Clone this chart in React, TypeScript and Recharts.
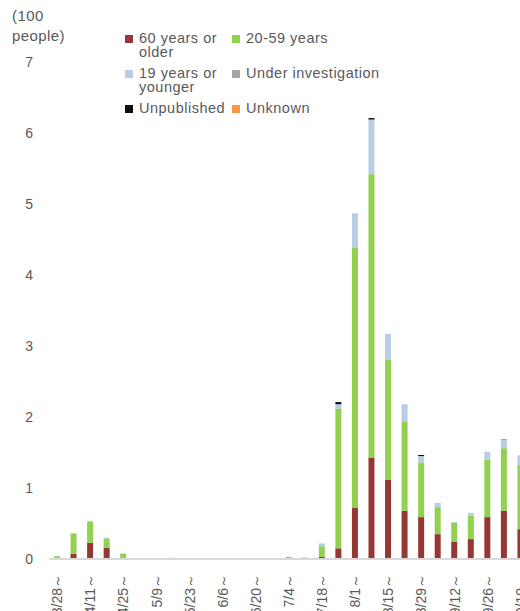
import { BarChart, Bar, XAxis, YAxis } from "recharts";

const weeks = [
  "3/28～", "4/4～", "4/11～", "4/18～", "4/25～", "5/2～", "5/9～", "5/16～", "5/23～", "5/30～",
  "6/6～", "6/13～", "6/20～", "6/27～", "7/4～", "7/11～", "7/18～", "7/25～", "8/1～", "8/8～",
  "8/15～", "8/22～", "8/29～", "9/5～", "9/12～", "9/19～", "9/26～", "10/3～", "10/10～",
];

// unit: 100 people
const older = [0, 0.07, 0.23, 0.16, 0.02, 0, 0, 0.015, 0, 0, 0, 0, 0, 0, 0, 0, 0.03, 0.15, 0.72, 1.43, 1.12, 0.68, 0.59, 0.35, 0.24, 0.28, 0.59, 0.68, 0.42];
const adults = [0.04, 0.29, 0.3, 0.13, 0.05, 0, 0, 0, 0.01, 0, 0, 0, 0, 0, 0.03, 0.02, 0.15, 1.97, 3.67, 3.99, 1.69, 1.26, 0.77, 0.38, 0.27, 0.33, 0.81, 0.88, 0.91];
const younger = [0, 0, 0, 0.01, 0.01, 0, 0, 0, 0, 0, 0, 0, 0, 0, 0, 0.005, 0.04, 0.06, 0.48, 0.76, 0.36, 0.24, 0.09, 0.06, 0.01, 0.04, 0.11, 0.11, 0.13];
const investigating = [0, 0, 0, 0, 0, 0, 0, 0, 0, 0, 0, 0, 0, 0, 0, 0, 0, 0, 0, 0.01, 0, 0, 0, 0, 0, 0, 0, 0.02, 0];
const unpublished = [0, 0, 0, 0, 0, 0, 0, 0, 0, 0, 0, 0, 0, 0, 0, 0, 0, 0.03, 0, 0.02, 0, 0, 0.015, 0, 0, 0, 0, 0, 0];
const unknown = [0, 0, 0, 0, 0, 0, 0, 0, 0, 0, 0, 0, 0, 0, 0, 0, 0, 0, 0, 0, 0, 0, 0, 0, 0, 0, 0, 0, 0];

const yTicks = [0, 1, 2, 3, 4, 5, 6, 7];

const series = [
  { key: "older", label: "60 years or\nolder", color: "#953735" },
  { key: "adults", label: "20-59 years", color: "#92D050" },
  { key: "younger", label: "19 years or\nyounger", color: "#B9CDE5" },
  { key: "investigating", label: "Under investigation", color: "#A6A6A6" },
  { key: "unpublished", label: "Unpublished", color: "#0D0D0D" },
  { key: "unknown", label: "Unknown", color: "#F79646" },
];

const rows = weeks.map((w, i) => ({
  week: w,
  older: older[i],
  adults: adults[i],
  younger: younger[i],
  investigating: investigating[i],
  unpublished: unpublished[i],
  unknown: unknown[i],
}));

const FONT = "'Liberation Sans', Arial, sans-serif";
const GREY = "#595959";

function WeekTick({ x, y, payload }: { x?: number; y?: number; payload?: { value: string } }) {
  if (x == null || y == null || !payload) return null;
  const ty = y + 7;
  return (
    <text
      x={x}
      y={ty}
      transform={`rotate(-90 ${x} ${ty})`}
      textAnchor="end"
      dy={5}
      fontSize={14}
      fill={GREY}
      fontFamily={FONT}
    >
      {payload.value}
    </text>
  );
}

function LegendBox() {
  return (
    <div
      style={{
        position: "absolute",
        left: 125,
        top: 31,
        display: "grid",
        gridTemplateColumns: "107px 160px",
        rowGap: 7,
        fontFamily: FONT,
        fontSize: 14.5,
        letterSpacing: 0.5,
        lineHeight: "14px",
        color: GREY,
      }}
    >
      {series.map((s) => (
        <div key={s.key} style={{ display: "flex", alignItems: "flex-start" }}>
          <span
            style={{
              width: 8,
              height: 8,
              background: s.color,
              marginTop: 4,
              marginRight: 6,
              flex: "none",
            }}
          />
          <span style={{ whiteSpace: "pre" }}>{s.label}</span>
        </div>
      ))}
    </div>
  );
}

export default function App() {
  return (
    <div
      style={{
        position: "fixed",
        left: 0,
        top: 0,
        width: 520,
        height: 611,
        overflow: "hidden",
        background: "#fff",
      }}
    >
      <div
        style={{
          position: "absolute",
          left: 12,
          top: 6,
          fontFamily: FONT,
          fontSize: 15,
          letterSpacing: 0.4,
          lineHeight: "20px",
          color: GREY,
        }}
      >
        (100
        <br />
        people)
      </div>
      <LegendBox />
      <BarChart
        width={530}
        height={611}
        data={rows}
        margin={{ top: 62, right: 1, left: 8, bottom: 0 }}
        barCategoryGap={0}
        style={{ position: "absolute", left: 0, top: 0 }}
      >
        <XAxis
          dataKey="week"
          interval={1}
          tickLine={false}
          axisLine={{ stroke: "#D9D9D9", strokeWidth: 2 }}
          height={52}
          tick={<WeekTick />}
        />
        <YAxis
          domain={[0, 7]}
          ticks={yTicks}
          axisLine={false}
          tickLine={false}
          width={41}
          tickMargin={10}
          tick={{ fontSize: 14, fill: GREY, fontFamily: FONT }}
        />
        {series.map((s) => (
          <Bar
            key={s.key}
            dataKey={s.key}
            stackId="a"
            fill={s.color}
            barSize={6}
            isAnimationActive={false}
          />
        ))}
      </BarChart>
    </div>
  );
}
